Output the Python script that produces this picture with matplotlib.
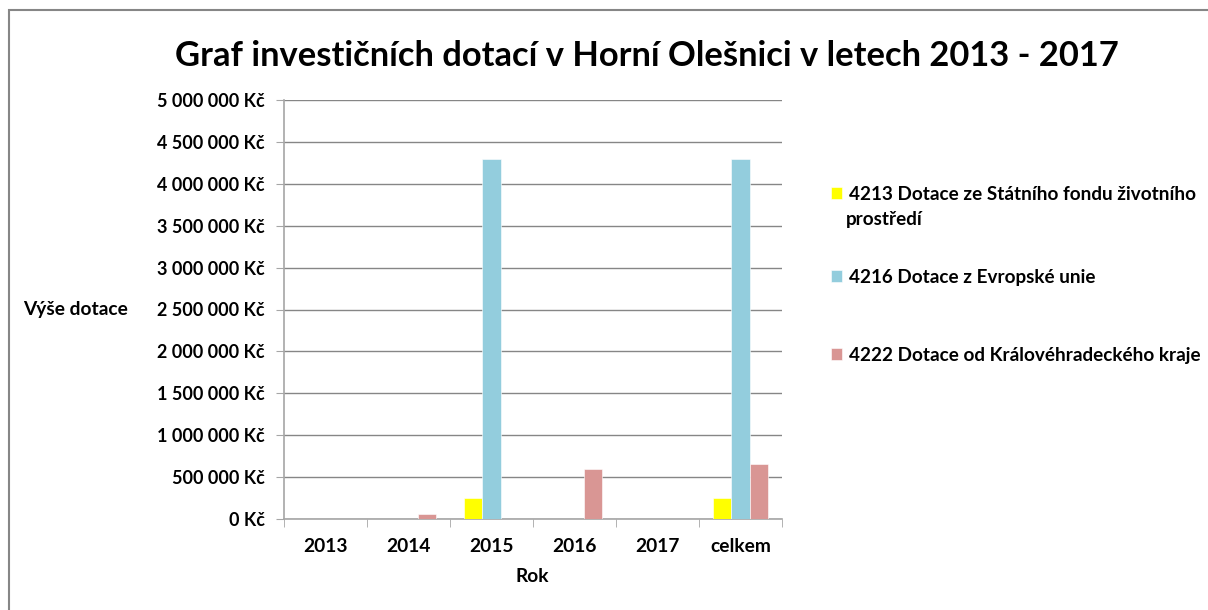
import matplotlib
matplotlib.use("Agg")
import matplotlib.pyplot as plt
import numpy as np
from matplotlib.patches import Rectangle
from matplotlib.ticker import FuncFormatter

categories = ["2013", "2014", "2015", "2016", "2017", "celkem"]
series_names = [
    "4213 Dotace ze Státního fondu životního prostředí",
    "4216 Dotace z Evropské unie",
    "4222 Dotace od Královéhradeckého kraje",
]
sfzp = [0, 0, 250000, 0, 0, 250000]
eu = [0, 0, 4300000, 0, 0, 4300000]
kraj = [0, 65000, 0, 595000, 0, 660000]
yticks = list(range(0, 5000001, 500000))
colors = ["#FFFF00", "#93CDDD", "#D99694"]

plt.rcParams['font.family'] = ['Lato', 'DejaVu Sans']
plt.rcParams['font.weight'] = 'bold'

fig = plt.figure(figsize=(12.08, 6.10), dpi=100)
ax = fig.add_axes([284/1208, 1-519/610, (782-284)/1208, (519-100)/610])

x = np.arange(len(categories))
w = 0.22
bars = []
for i, (vals, c) in enumerate(zip([sfzp, eu, kraj], colors)):
    b = ax.bar(x + (i-1)*w, vals, width=w, color=c, edgecolor='white', linewidth=0.4,
               label=series_names[i], zorder=3)
    bars.append(b)

ax.set_xlim(-0.5, len(categories)-0.5)
ax.set_ylim(0, 5000000)
ax.set_yticks(yticks)
def fmt(v, pos):
    s = f"{int(v):,}".replace(",", " ")
    return f"{s} Kč"
ax.yaxis.set_major_formatter(FuncFormatter(fmt))
ax.set_xticks(x)
ax.set_xticklabels(categories)
ax.set_xticks(np.arange(-0.5, len(categories)), minor=True)
ax.tick_params(axis='x', which='major', length=0, pad=14, labelsize=13.8)
ax.tick_params(axis='x', which='minor', length=6, color='#A6A6A6', direction='out')
ax.tick_params(axis='y', length=6, color='#A6A6A6', pad=8, labelsize=13)
for lab in ax.get_xticklabels() + ax.get_yticklabels():
    lab.set_fontweight('bold')

ax.grid(axis='y', color='#868686', linewidth=1.0, zorder=0)
for s in ['top', 'right']:
    ax.spines[s].set_visible(False)
ax.spines['left'].set_color('#A6A6A6')
ax.spines['bottom'].set_color('#A6A6A6')
ax.spines['left'].set_linewidth(1.2)
ax.spines['bottom'].set_linewidth(1.2)

fig.text(647/1208, 1-56/610, "Graf investičních dotací v Horní Olešnici v letech 2013 - 2017",
         ha='center', va='center', fontsize=24.8, fontweight='bold')
fig.text(23/1208, 1-310/610, "Výše dotace", ha='left', va='center', fontsize=13.8, fontweight='bold')
fig.text(532/1208, 1-577/610, "Rok", ha='center', va='center', fontsize=13.8, fontweight='bold')

# legend: one entry per legend box to reproduce the spacing
first_line, rest = "4213 Dotace ze Státního fondu životního", "prostředí"
labels = [first_line, series_names[1], series_names[2]]
ycent = [194, 277, 355]
for b, lab, yc in zip(bars, labels, ycent):
    lg = fig.legend([b], [lab], loc='center left', bbox_to_anchor=(831/1208, 1-yc/610),
                    frameon=False, fontsize=13.6, handlelength=0.6, handleheight=0.6,
                    handletextpad=0.35, borderaxespad=0, borderpad=0)
    for t in lg.get_texts():
        t.set_fontweight('bold')
fig.text(846/1208, 1-219/610, rest, ha='left', va='center', fontsize=13.6, fontweight='bold')

fig.patches.append(Rectangle((9/1208, -0.1), 1.2, 1-10/610+0.1, transform=fig.transFigure,
                             fill=False, edgecolor='#868686', linewidth=1.5))

fig.savefig("out.png", dpi=100)
